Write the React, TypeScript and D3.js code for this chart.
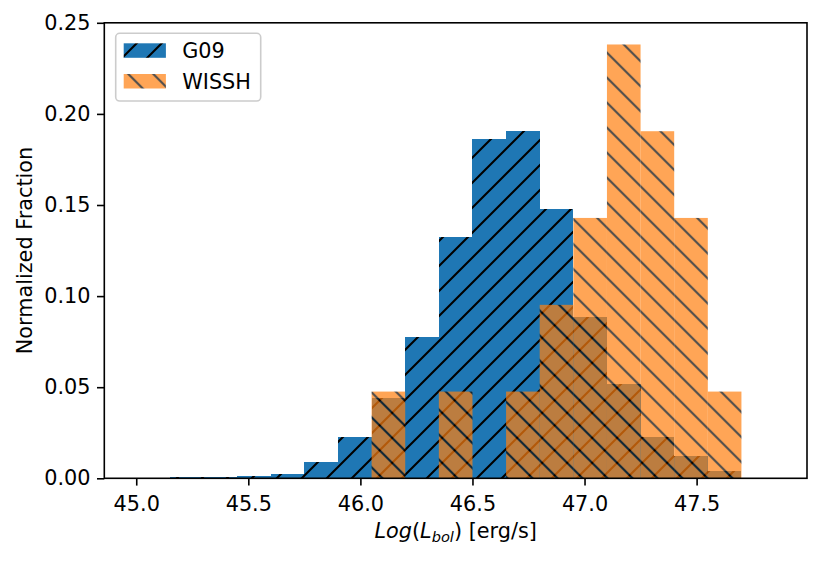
import * as d3 from 'd3'
import { useEffect, useRef } from 'react'

// histogram bin edges, Log(L_bol)
const binEdges = [
  45.0, 45.15, 45.3, 45.45, 45.6, 45.75, 45.9, 46.05, 46.2, 46.35, 46.5,
  46.65, 46.8, 46.95, 47.1, 47.25, 47.4, 47.55, 47.7, 47.85,
]

// normalized fraction per bin
const g09Values = [
  0, 0.0007, 0.0007, 0.0014, 0.0022, 0.0087, 0.0225, 0.044, 0.0778, 0.1322,
  0.1864, 0.1907, 0.1478, 0.0887, 0.0518, 0.0227, 0.0124, 0.0038, 0,
]
const wisshValues = [
  0, 0, 0, 0, 0, 0, 0, 0.0476, 0, 0.0476, 0, 0.0476, 0.0952, 0.1429, 0.2381,
  0.1905, 0.1429, 0.0476, 0,
]

const seriesNames = ['G09', 'WISSH']
const xTicks = [45.0, 45.5, 46.0, 46.5, 47.0, 47.5]
const yTicks = [0, 0.05, 0.1, 0.15, 0.2, 0.25]

const fontSize = 20.8
const font = 'DejaVu Sans'

export default function App() {
  const axisBottomRef = useRef<SVGGElement>(null)
  const axisLeftRef = useRef<SVGGElement>(null)

  const width = 830
  const height = 561
  const plot = { left: 104.3, right: 807, top: 22.8, bottom: 478.3 }

  const scaleX = d3
    .scaleLinear()
    .domain([44.8575, 47.9925])
    .range([plot.left, plot.right])
  const scaleY = d3
    .scaleLinear()
    .domain([0, 0.25])
    .range([plot.bottom, plot.top])

  useEffect(() => {
    if (axisBottomRef.current) {
      const g = d3.select(axisBottomRef.current)
      g.call(
        d3
          .axisBottom(scaleX)
          .tickValues(xTicks)
          .tickFormat(d3.format('.1f'))
          .tickSize(7.3)
          .tickSizeOuter(0)
          .tickPadding(10.5),
      )
      g.select('.domain').remove()
      g.selectAll('line').attr('stroke-width', 1.6)
      g.attr('font-size', fontSize).attr('font-family', font)
    }

    if (axisLeftRef.current) {
      const g = d3.select(axisLeftRef.current)
      g.call(
        d3
          .axisLeft(scaleY)
          .tickValues(yTicks)
          .tickFormat(d3.format('.2f'))
          .tickSize(7.3)
          .tickSizeOuter(0)
          .tickPadding(6.5),
      )
      g.select('.domain').remove()
      g.selectAll('line').attr('stroke-width', 1.6)
      g.attr('font-size', fontSize).attr('font-family', font)
    }
  }, [scaleX, scaleY])

  const bars = (
    values: number[],
    fill: string,
    opacity: number,
    crisp: boolean,
  ) =>
    values.map((v, i) => {
      if (!v) return null
      const x0 = scaleX(binEdges[i])
      const x1 = scaleX(binEdges[i + 1])
      return (
        <rect
          key={`${fill}-${i}`}
          x={x0}
          y={scaleY(v)}
          width={x1 - x0}
          height={scaleY(0) - scaleY(v)}
          fill={fill}
          opacity={opacity}
          shapeRendering={crisp ? 'crispEdges' : undefined}
        />
      )
    })

  // legend box, all in absolute coords so the hatch phase matches the bars
  const legend = { x: 115.7, y: 33.3, w: 145, h: 67.7 }
  const fills = ['url(#hatchG09)', 'url(#hatchWISSH)']
  const alphas = [1, 0.7]

  return (
    <div style={{ position: 'absolute', left: 0, top: 0 }}>
      <svg width={width} height={height} style={{ display: 'block' }}>
        <defs>
          <pattern
            id="hatchG09"
            patternUnits="userSpaceOnUse"
            width={25}
            height={25}
            patternTransform="translate(5,0)"
          >
            <rect width={25} height={25} fill="#1f77b4" />
            <path
              d="M-5,5L5,-5M0,25L25,0M20,30L30,20"
              stroke="black"
              strokeWidth={2.1}
            />
          </pattern>
          <pattern
            id="hatchWISSH"
            patternUnits="userSpaceOnUse"
            width={25}
            height={25}
            patternTransform="translate(4.3,0)"
          >
            <rect width={25} height={25} fill="#ff7f0e" />
            <path
              d="M0,0L25,25M20,-5L30,5M-5,20L5,30"
              stroke="black"
              strokeWidth={2.1}
            />
          </pattern>
        </defs>

        <rect width={width} height={height} fill="white" />

        <g>{bars(g09Values, fills[0], alphas[0], true)}</g>
        <g>{bars(wisshValues, fills[1], alphas[1], false)}</g>

        <rect
          x={plot.left}
          y={plot.top}
          width={plot.right - plot.left}
          height={plot.bottom - plot.top}
          fill="none"
          stroke="black"
          strokeWidth={1.6}
        />
        <g ref={axisBottomRef} transform={`translate(0, ${plot.bottom})`} />
        <g ref={axisLeftRef} transform={`translate(${plot.left}, 0)`} />

        <text
          transform={`translate(31.5, ${(plot.top + plot.bottom) / 2}) rotate(-90)`}
          textAnchor="middle"
          fontSize={fontSize}
          fontFamily={font}
        >
          Normalized Fraction
        </text>

        <text
          x={(plot.left + plot.right) / 2}
          y={538}
          textAnchor="middle"
          fontSize={fontSize}
          fontFamily={font}
        >
          <tspan fontStyle="italic">Log</tspan>
          <tspan>(</tspan>
          <tspan fontStyle="italic">L</tspan>
          <tspan fontStyle="italic" fontSize={14.6} dy={3.5}>
            bol
          </tspan>
          <tspan dy={-3.5}>)</tspan>
          <tspan> [erg/s]</tspan>
        </text>

        <rect
          x={legend.x}
          y={legend.y}
          width={legend.w}
          height={legend.h}
          rx={4}
          fill="white"
          fillOpacity={0.8}
          stroke="#cccccc"
          strokeWidth={1.6}
        />
        {seriesNames.map((name, i) => (
          <g key={name}>
            <rect
              x={legend.x + 8}
              y={legend.y + 10 + i * 30.7}
              width={42.2}
              height={14.5}
              fill={fills[i]}
              opacity={alphas[i]}
            />
            <text
              x={legend.x + 66.5}
              y={legend.y + 25 + i * 30.3}
              fontSize={fontSize}
              fontFamily={font}
            >
              {name}
            </text>
          </g>
        ))}
      </svg>
    </div>
  )
}
